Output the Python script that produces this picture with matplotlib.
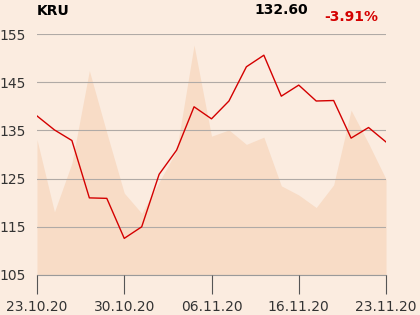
import matplotlib.pyplot as plt

# Kurs (rote Linie) und Hintergrundflaeche, je ein Wert pro Handelstag
price = [138.0, 135.1, 132.9, 121.0, 120.9, 112.6, 115.0, 125.9, 130.9, 139.9,
         137.4, 141.1, 148.2, 150.6, 142.1, 144.4, 141.1, 141.2, 133.4, 135.6, 132.6]
area = [133.1, 118.1, 128.2, 147.4, 134.5, 122.0, 117.8, 124.3, 130.8, 152.7,
        133.8, 135.1, 132.1, 133.6, 123.5, 121.6, 119.0, 123.7, 139.2, 132.3, 124.9]
tick_pos = [0, 5, 10, 15, 20]
tick_labels = ['23.10.20', '30.10.20', '06.11.20', '16.11.20', '23.11.20']
yticks = [105, 115, 125, 135, 145, 155]

bg = '#fbece0'
fig = plt.figure(figsize=(4.2, 3.15), dpi=100, facecolor=bg)
ax = fig.add_axes([37/420, 1-275/315, 349/420, 241/315])
ax.set_facecolor(bg)

x = list(range(len(price)))
ax.fill_between(x, 105, area, color='#f8dcc6', lw=0, zorder=1)
ax.plot(x, price, color='#d40000', lw=1.0, zorder=3)

ax.set_xlim(0, 20)
ax.set_ylim(105, 155)
ax.set_yticks(yticks)
ax.grid(axis='y', color='#b0aaa6', lw=0.8, zorder=2)
ax.set_axisbelow(False)
ax.set_xticks(tick_pos)
ax.set_xticklabels(tick_labels)
for s in ['top', 'right', 'left']:
    ax.spines[s].set_visible(False)
ax.spines['bottom'].set_color('#9a9a9a')
ax.tick_params(axis='y', length=0, labelsize=10, labelcolor='#333333', pad=8)
ax.tick_params(axis='x', length=14, color='#555555', labelsize=10, labelcolor='#333333', pad=4)

fig.text(37/420, 1-11/315, 'KRU', fontsize=10, fontweight='bold', va='center', ha='left')
fig.text(281/420, 1-10/315, '132.60', fontsize=10, fontweight='bold', va='center', ha='center')
fig.text(351/420, 1-17/315, '-3.91%', fontsize=10, fontweight='bold', color='#d40000', va='center', ha='center')

fig.savefig('out.png', dpi=100, facecolor=bg)
